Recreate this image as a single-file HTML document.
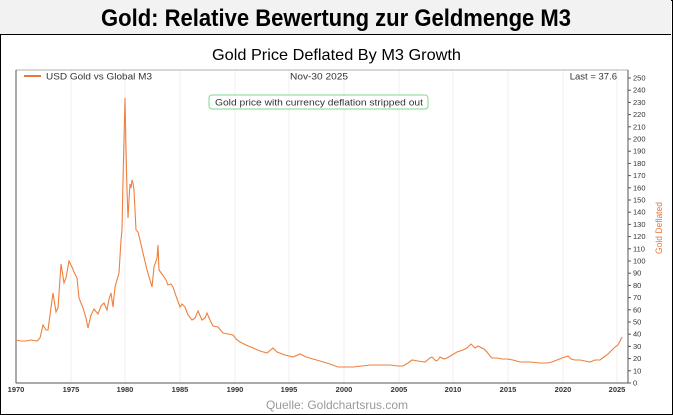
<!DOCTYPE html>
<html><head><meta charset="utf-8"><style>
html,body{margin:0;padding:0;background:#fff;}
body{width:673px;height:415px;overflow:hidden;position:relative;font-family:"Liberation Sans",sans-serif;}
.frame{position:absolute;left:0;top:0;width:671px;height:413px;border:1px solid #000;}
.hdr{position:absolute;left:0;top:0;width:671px;height:34px;background:#f2f2f2;border-bottom:1px solid #000;}
</style></head><body>
<div class="frame"></div>
<div class="hdr"></div>
<svg width="673" height="415" style="position:absolute;left:0;top:0" font-family="Liberation Sans, sans-serif">
<text x="101" y="26" font-size="24" font-weight="bold" fill="#000" textLength="470" lengthAdjust="spacingAndGlyphs">Gold: Relative Bewertung zur Geldmenge M3</text>
<text x="212" y="60" font-size="16" fill="#000" textLength="249" lengthAdjust="spacingAndGlyphs">Gold Price Deflated By M3 Growth</text>
<g stroke="#f4eded" stroke-width="1">
<line x1="71" y1="70" x2="71" y2="383"/><line x1="125" y1="70" x2="125" y2="383"/><line x1="180" y1="70" x2="180" y2="383"/><line x1="235" y1="70" x2="235" y2="383"/><line x1="289" y1="70" x2="289" y2="383"/><line x1="344" y1="70" x2="344" y2="383"/><line x1="399" y1="70" x2="399" y2="383"/><line x1="453" y1="70" x2="453" y2="383"/><line x1="508" y1="70" x2="508" y2="383"/><line x1="563" y1="70" x2="563" y2="383"/><line x1="617" y1="70" x2="617" y2="383"/>
</g>
<path d="M16 70V383H628V70Z" fill="none" stroke="#999" stroke-width="0.8"/>
<line x1="16" y1="70" x2="16" y2="383" stroke="#555"/>
<line x1="16" y1="383" x2="628" y2="383" stroke="#555"/>
<line x1="628" y1="70" x2="628" y2="383" stroke="#555"/>
<line x1="24" y1="76" x2="41" y2="76" stroke="#e8763a" stroke-width="2"/>
<text x="46" y="79.5" font-size="9.5" fill="#333" textLength="106" lengthAdjust="spacingAndGlyphs">USD Gold vs Global M3</text>
<text x="290" y="79.5" font-size="9.5" fill="#333" textLength="58" lengthAdjust="spacingAndGlyphs">Nov-30  2025</text>
<text x="617" y="79.5" font-size="9.5" fill="#333" text-anchor="end">Last = 37.6</text>
<rect x="209" y="95" width="219" height="14" rx="3" fill="#fff" stroke="#7dd88a"/>
<text x="215" y="105.5" font-size="9.5" fill="#333" textLength="208" lengthAdjust="spacingAndGlyphs">Gold price with currency deflation stripped out</text>
<g font-size="7.5" fill="#333" font-weight="bold">
<text x="16" y="392" text-anchor="middle">1970</text><text x="71" y="392" text-anchor="middle">1975</text><text x="125" y="392" text-anchor="middle">1980</text><text x="180" y="392" text-anchor="middle">1985</text><text x="235" y="392" text-anchor="middle">1990</text><text x="289" y="392" text-anchor="middle">1995</text><text x="344" y="392" text-anchor="middle">2000</text><text x="399" y="392" text-anchor="middle">2005</text><text x="453" y="392" text-anchor="middle">2010</text><text x="508" y="392" text-anchor="middle">2015</text><text x="563" y="392" text-anchor="middle">2020</text><text x="617" y="392" text-anchor="middle">2025</text>
</g>
<g stroke="#555">
<line x1="628" x2="631" y1="383" y2="383"/><line x1="628" x2="631" y1="370.8" y2="370.8"/><line x1="628" x2="631" y1="358.6" y2="358.6"/><line x1="628" x2="631" y1="346.4" y2="346.4"/><line x1="628" x2="631" y1="334.2" y2="334.2"/><line x1="628" x2="631" y1="322" y2="322"/><line x1="628" x2="631" y1="309.8" y2="309.8"/><line x1="628" x2="631" y1="297.6" y2="297.6"/><line x1="628" x2="631" y1="285.4" y2="285.4"/><line x1="628" x2="631" y1="273.2" y2="273.2"/><line x1="628" x2="631" y1="261" y2="261"/><line x1="628" x2="631" y1="248.8" y2="248.8"/><line x1="628" x2="631" y1="236.6" y2="236.6"/><line x1="628" x2="631" y1="224.4" y2="224.4"/><line x1="628" x2="631" y1="212.2" y2="212.2"/><line x1="628" x2="631" y1="200" y2="200"/><line x1="628" x2="631" y1="187.8" y2="187.8"/><line x1="628" x2="631" y1="175.6" y2="175.6"/><line x1="628" x2="631" y1="163.4" y2="163.4"/><line x1="628" x2="631" y1="151.2" y2="151.2"/><line x1="628" x2="631" y1="139" y2="139"/><line x1="628" x2="631" y1="126.8" y2="126.8"/><line x1="628" x2="631" y1="114.6" y2="114.6"/><line x1="628" x2="631" y1="102.4" y2="102.4"/><line x1="628" x2="631" y1="90.2" y2="90.2"/><line x1="628" x2="631" y1="78" y2="78"/>
</g>
<g font-size="7.5" fill="#333">
<text x="633" y="385.5">0</text><text x="633" y="373.3">10</text><text x="633" y="361.1">20</text><text x="633" y="348.9">30</text><text x="633" y="336.7">40</text><text x="633" y="324.5">50</text><text x="633" y="312.3">60</text><text x="633" y="300.1">70</text><text x="633" y="287.9">80</text><text x="633" y="275.7">90</text><text x="633" y="263.5">100</text><text x="633" y="251.3">110</text><text x="633" y="239.1">120</text><text x="633" y="226.9">130</text><text x="633" y="214.7">140</text><text x="633" y="202.5">150</text><text x="633" y="190.3">160</text><text x="633" y="178.1">170</text><text x="633" y="165.9">180</text><text x="633" y="153.7">190</text><text x="633" y="141.5">200</text><text x="633" y="129.3">210</text><text x="633" y="117.1">220</text><text x="633" y="104.9">230</text><text x="633" y="92.7">240</text><text x="633" y="80.5">250</text>
</g>
<text transform="translate(662,228) rotate(-90)" font-size="9" fill="#e8763a" text-anchor="middle" textLength="52" lengthAdjust="spacingAndGlyphs">Gold Deflated</text>
<polyline fill="none" stroke="#ee8040" stroke-width="1.1" points="16,340 21,341 26,341 31,340 37,341 40,338 43,325 46,330 48,330 50,315 53,293 56,312 58,308 61,264 64,283 66,278 69,261 72,267 74,272 77,278 79,298 83,308 86,318 88,328 91,315 94,309 98,314 101,306 104,303 107,310 109,299 111,293 113,307 115,287 117,280 119,273 121,240 122,230 123,180 124,140 125,98 126,150 127,190 128,218 129,200 130,184 131,188 132,180 133,183 134,190 135,210 136,230 138,232 140,240 143,253 147,270 150,280 152,287 154,267 157,258 158,245 159,270 162,274 166,280 168,285 171,284 173,287 176,296 180,307 182,304 185,307 188,315 192,320 195,318 198,311 202,320 205,318 207,313 210,320 213,326 218,327 223,333 228,334 233,335 236,339 240,342 246,345 253,348 260,351 267,353 273,348 277,352 285,355 293,357 300,354 306,357 313,359 320,361 330,364 338,367 345,367 353,367 362,366 370,365 380,365 390,365 398,366 403,366 408,363 412,360 418,361 425,362 430,358 432,357 436,361 438,360 440,357 444,359 447,358 452,355 457,352 460,351 463,350 467,348 471,344 473,346 475,348 478,346 480,347 484,349 487,352 490,356 492,358 497,358 502,359 507,359 513,360 520,362 530,362 540,363 547,363 552,362 557,360 562,358 565,357 568,356 571,359 575,360 580,360 585,361 590,362 595,360 600,360 604,357 608,354 612,350 615,347 618,345 620,341 622,337"/>
<text x="337" y="409" font-size="12" fill="#999" text-anchor="middle">Quelle: Goldchartsrus.com</text>
</svg>
</body></html>
